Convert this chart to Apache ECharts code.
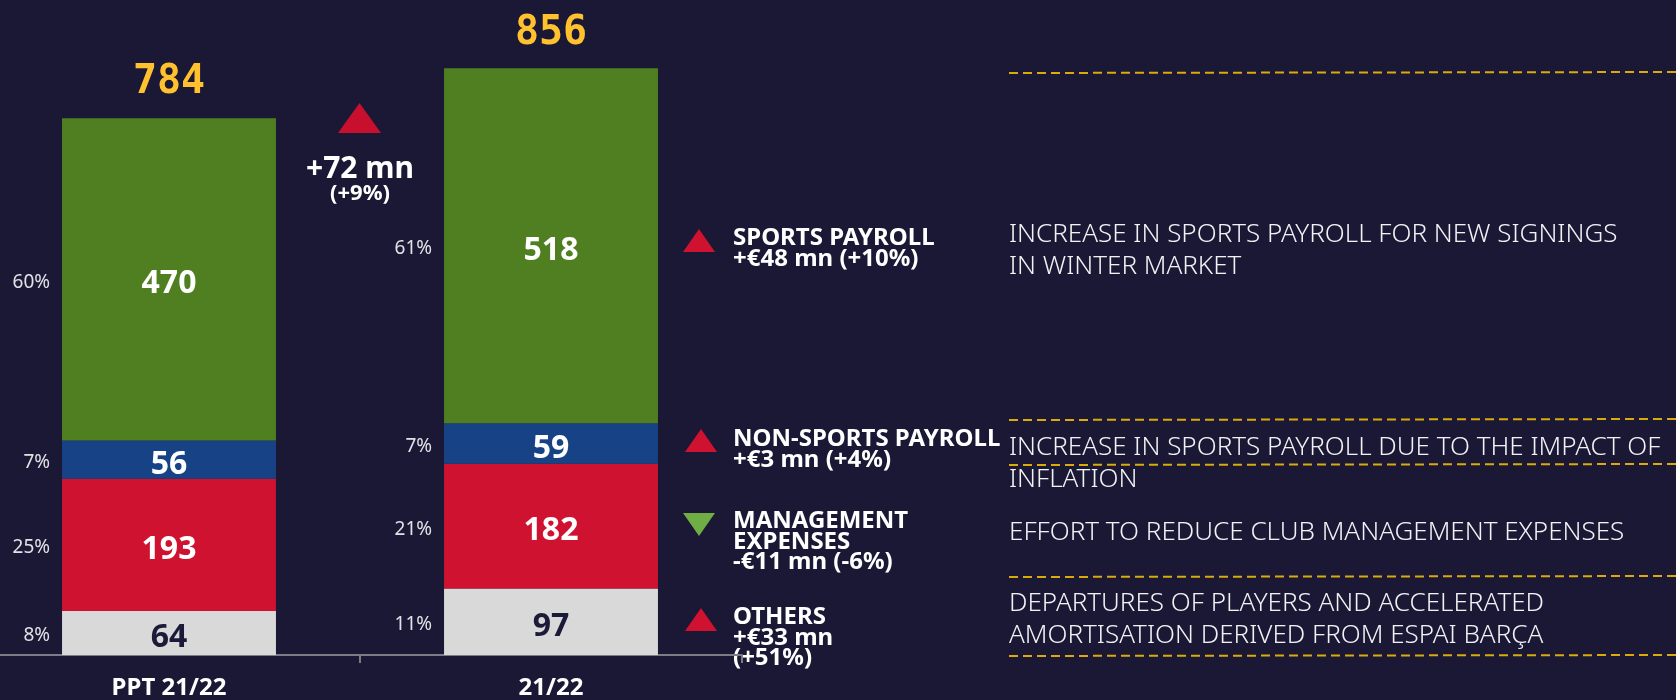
<!DOCTYPE html>
<html>
<head>
<meta charset="utf-8">
<script src="https://cdn.jsdelivr.net/npm/echarts@6/dist/echarts.min.js"></script>
<style>
  html, body { margin: 0; padding: 0; background: #1a1835; }
  #chart { width: 1676px; height: 700px; }
</style>
</head>
<body>
<div id="chart"></div>
<script>
// data
const categories = ['PPT 21/22', '21/22'];
const others = [64, 97];
const management = [193, 182];
const nonSports = [56, 59];
const sports = [470, 518];
const totals = [784, 856];

// stacked segments, bottom to top
const segments = [
  { name: 'Others', data: others, color: '#d9d9d9', text: '#1b1a38' },
  { name: 'Management expenses', data: management, color: '#cf1230', text: '#ffffff' },
  { name: 'Non-sports payroll', data: nonSports, color: '#174386', text: '#ffffff' },
  { name: 'Sports payroll', data: sports, color: '#4f7f21', text: '#ffffff' }
];

const FONT = '"Noto Sans", "Open Sans", sans-serif';

const chart = echarts.init(document.getElementById('chart'));

// value bars
const valueSeries = segments.map(s => ({
  type: 'bar',
  name: s.name,
  stack: 'value',
  data: s.data,
  barWidth: '56%',
  barGap: '-100%',
  itemStyle: { color: s.color },
  label: {
    show: true,
    position: 'inside',
    offset: [0, 5],
    color: s.text,
    fontSize: 32,
    fontWeight: 'bold',
    fontFamily: FONT
  }
}));

// same stack again, invisible, only to carry the share labels on the left
const shareSeries = segments.map(s => ({
  type: 'bar',
  name: s.name + ' %',
  stack: 'share',
  data: s.data,
  barWidth: '56%',
  barGap: '-100%',
  itemStyle: { color: 'rgba(0,0,0,0)' },
  label: {
    show: true,
    position: 'left',
    distance: 12,
    offset: [0, 3],
    color: '#e2e2e6',
    fontSize: 19,
    fontFamily: FONT,
    formatter: p => Math.round(p.value / totals[p.dataIndex] * 100) + '%'
  }
}));

const totalSeries = {
  type: 'scatter',
  data: totals,
  symbolSize: 0,
  itemStyle: { color: '#ffc12e', opacity: 1 },
  label: {
    show: true,
    position: 'top',
    distance: 15,
    opacity: 1,
    color: '#ffc12e',
    fontSize: 40,
    fontWeight: 'bold',
    fontFamily: '"DejaVu Sans Mono", monospace',
    formatter: p => String(p.value)
  }
};

function tri(x, y, up, color, w, h) {
  w = w || 32;
  h = h || 23;
  const pts = up
    ? [[x, y + h], [x + w, y + h], [x + w / 2, y]]
    : [[x, y], [x + w, y], [x + w / 2, y + h]];
  return { type: 'polygon', shape: { points: pts }, style: { fill: color }, silent: true };
}

function txt(text, x, y, opts) {
  return {
    type: 'text',
    silent: true,
    style: Object.assign({
      text: text, x: x, y: y,
      fill: '#ffffff',
      fontFamily: FONT,
      textAlign: 'left',
      textVerticalAlign: 'top'
    }, opts)
  };
}

function dash(y) {
  return {
    type: 'line', silent: true,
    shape: { x1: 1009, y1: y, x2: 1676, y2: y - 1 },
    style: { stroke: '#d9ab0c', lineWidth: 2, lineDash: [9, 5] }
  };
}

const bold = { fontSize: 24, fontWeight: 'bold', lineHeight: 20.5 };
const light = { fontSize: 26, fontWeight: 300, lineHeight: 32.5, fill: '#f2f2f5' };

chart.setOption({
  backgroundColor: '#1a1835',
  animation: false,
  grid: { left: -22, width: 764, top: 38, bottom: 45, containLabel: false, outerBoundsMode: 'none' },
  xAxis: {
    type: 'category',
    data: categories,
    axisLine: { lineStyle: { color: '#7c7c86', width: 2 } },
    axisTick: { show: true, length: 8, lineStyle: { color: '#7c7c86', width: 2 } },
    axisLabel: {
      color: '#ffffff',
      fontSize: 24,
      fontWeight: 'bold',
      fontFamily: FONT,
      margin: 21
    }
  },
  yAxis: {
    type: 'value',
    min: 0,
    max: 900,
    show: false,
    splitLine: { show: false }
  },
  series: [...valueSeries, ...shareSeries, totalSeries],
  graphic: {
    elements: [
      // change between the two bars
      tri(338, 103, true, '#c8102e', 43, 30),
      txt('+72 mn', 360, 169, { fontSize: 30, fontWeight: 'bold', textAlign: 'center', textVerticalAlign: 'middle' }),
      txt('(+9%)', 360, 194, { fontSize: 22, fontWeight: 'bold', textAlign: 'center', textVerticalAlign: 'middle' }),

      // per-line changes
      tri(683, 229, true, '#cf1230'),
      txt('SPORTS PAYROLL\n+€48 mn (+10%)', 733, 228, bold),
      tri(685, 429, true, '#cf1230'),
      txt('NON-SPORTS PAYROLL\n+€3 mn (+4%)', 733, 429, bold),
      tri(683, 513, false, '#6fad45'),
      txt('MANAGEMENT\nEXPENSES\n-€11 mn (-6%)', 733, 511, bold),
      tri(685, 608, true, '#cf1230'),
      txt('OTHERS\n+€33 mn\n(+51%)', 733, 607, bold),

      // comments
      dash(73),
      txt('INCREASE IN SPORTS PAYROLL FOR NEW SIGNINGS\nIN WINTER MARKET', 1009, 218, light),
      dash(420),
      txt('INCREASE IN SPORTS PAYROLL DUE TO THE IMPACT OF\nINFLATION', 1009, 431, light),
      dash(465),
      txt('EFFORT TO REDUCE CLUB MANAGEMENT EXPENSES', 1009, 516, light),
      dash(577),
      txt('DEPARTURES OF PLAYERS AND ACCELERATED\nAMORTISATION DERIVED FROM ESPAI BARÇA', 1009, 587, light),
      dash(656)
    ]
  }
});
</script>
</body>
</html>
